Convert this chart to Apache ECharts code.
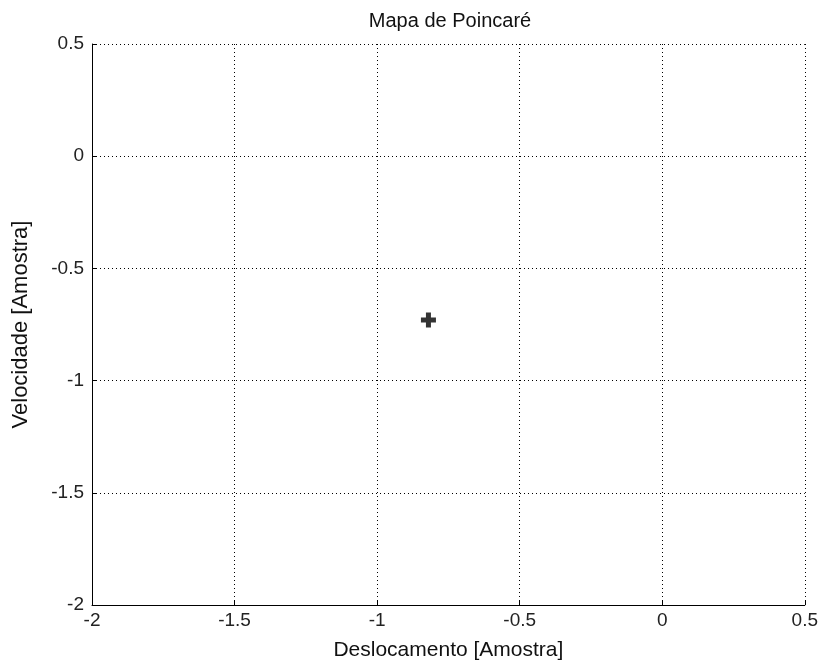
<!DOCTYPE html>
<html><head><meta charset="utf-8">
<script src="https://cdn.jsdelivr.net/npm/echarts@6/dist/echarts.min.js"></script>
<style>html,body{margin:0;padding:0;background:#fff}#c{width:821px;height:666px}</style>
</head><body><div id="c"></div>
<script>
var pointX = [-0.82];
var pointY = [-0.73];
var xTicks = [-2, -1.5, -1, -0.5, 0, 0.5];
var yTicks = [-2, -1.5, -1, -0.5, 0, 0.5];
var chart = echarts.init(document.getElementById('c'));
var font = 'Liberation Sans, Arial, sans-serif';
function fmt(v){ return String(v); }
chart.setOption({
  animation:false,
  backgroundColor:'#fff',
  title:{text:'Mapa de Poincaré', left:445, top:6, textAlign:'center',
    textStyle:{fontFamily:font,fontSize:20,fontWeight:'normal',color:'#111'}},
  grid:{left:92,right:15,top:44,bottom:61},
  xAxis:{type:'value',min:xTicks[0],max:xTicks[xTicks.length-1],interval:0.5,
    name:'Deslocamento [Amostra]',nameLocation:'middle',nameGap:35,
    nameTextStyle:{fontFamily:font,fontSize:21,color:'#111'},
    axisLine:{show:true,onZero:false,lineStyle:{color:'#000',width:1}},
    axisTick:{show:true,inside:true,length:5,lineStyle:{color:'#000'}},
    axisLabel:{fontFamily:font,fontSize:19,color:'#222',margin:6,formatter:fmt,showMinLabel:true,showMaxLabel:true},
    splitLine:{show:true,lineStyle:{color:'#000',type:[1,3],width:1}}},
  yAxis:{type:'value',min:yTicks[0],max:yTicks[yTicks.length-1],interval:0.5,
    name:'Velocidade [Amostra]',nameLocation:'middle',nameGap:60,nameRotate:90,
    nameTextStyle:{fontFamily:font,fontSize:22,color:'#111'},
    axisLine:{show:true,onZero:false,lineStyle:{color:'#000',width:1}},
    axisTick:{show:true,inside:true,length:5,lineStyle:{color:'#000'}},
    axisLabel:{fontFamily:font,fontSize:19,color:'#222',margin:8,formatter:fmt,showMinLabel:true,showMaxLabel:true},
    splitLine:{show:true,lineStyle:{color:'#000',type:[1,3],width:1}}},
  series:[{type:'scatter',
    data:pointX.map(function(x,i){return [x,pointY[i]];}),
    symbol:'path://M5,0 L10,0 L10,5 L15,5 L15,10 L10,10 L10,15 L5,15 L5,10 L0,10 L0,5 L5,5 Z',
    symbolSize:15,
    itemStyle:{color:'#000'}}]
});
</script></body></html>
